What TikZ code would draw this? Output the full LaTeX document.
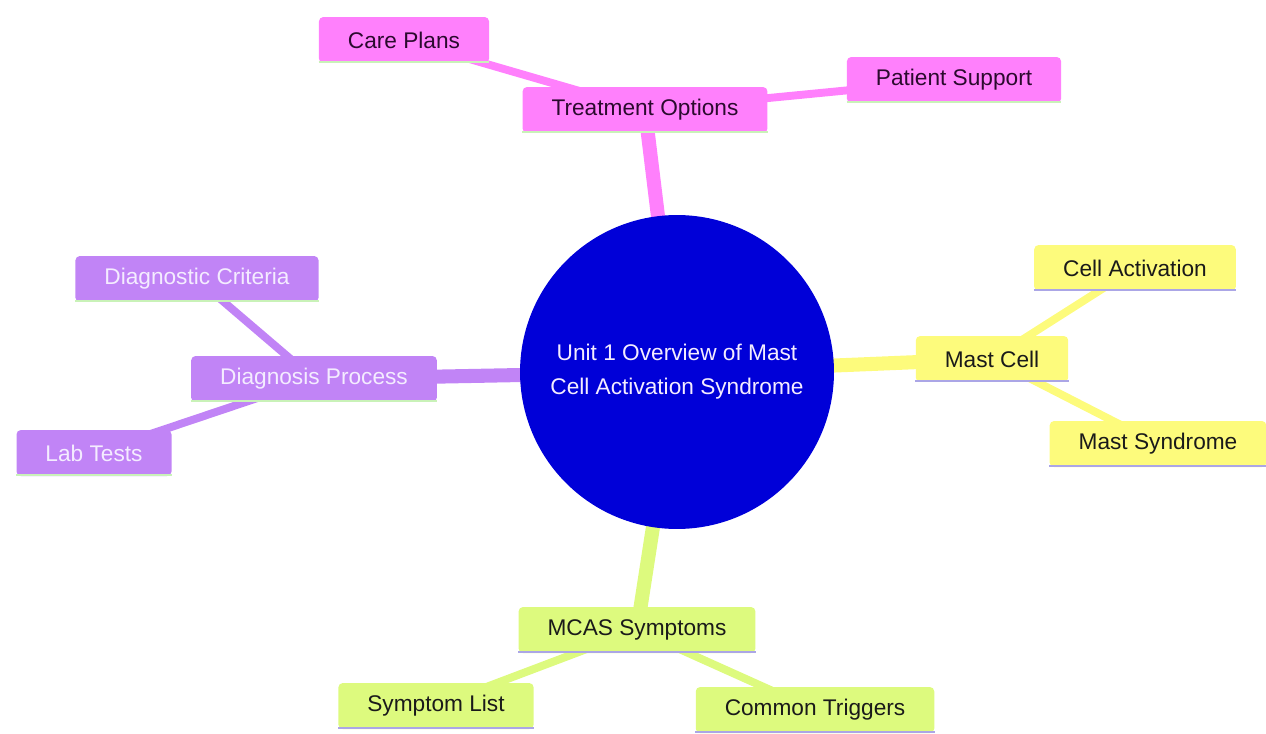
\documentclass[tikz,border=0pt]{standalone}
\usepackage{fontspec}
\setmainfont{Liberation Sans}
\usetikzlibrary{backgrounds}

\definecolor{pinkbr}{HTML}{FF80FC}
\definecolor{purplebr}{HTML}{C184F6}
\definecolor{yellowbr}{HTML}{FDFB7C}
\definecolor{greenbr}{HTML}{DDFA7E}
\definecolor{rootblue}{HTML}{0000D8}
\definecolor{lavline}{HTML}{ABA6E6}
\definecolor{mintline}{HTML}{C9F2B8}
\definecolor{darkplum}{HTML}{2B0A2E}
\definecolor{paletext}{HTML}{F4ECFF}
\definecolor{inktext}{HTML}{1A1A1A}

\tikzset{
  box/.style={rectangle, rounded corners=2.5pt, minimum height=0.92cm,
    inner xsep=0.58cm, font=\fontsize{12.9}{15}\selectfont},
  trunk/.style={line width=8pt},
  twig/.style={line width=4.5pt},
}

% name, position, text, fill, text colour, underline colour
\newcommand{\mmbox}[6]{
  \node[box, fill=#4, text=#5] (#1) at (#2) {#3};
  \draw[line width=1.6pt, #6] ([yshift=0.8pt]#1.south west) -- ([yshift=0.8pt]#1.south east);
}

\begin{document}
\begin{tikzpicture}[x=0.02cm, y=-0.02cm]
  \useasboundingbox (0,0) rectangle (1266,733);

  % root
  % ====
  \node[circle, fill=rootblue, minimum size=6.28cm, text=paletext, align=center,
    font=\fontsize{12.9}{19.3}\selectfont] (root) at (677,372)
    {Unit 1 Overview of Mast\\Cell Activation Syndrome};

  % Treatment
  % ---------
  \mmbox{treat}{645,110}{Treatment Options}{pinkbr}{darkplum}{mintline}
  \mmbox{care}{404,40}{Care Plans}{pinkbr}{darkplum}{mintline}
  \mmbox{support}{954,80}{Patient Support}{pinkbr}{darkplum}{mintline}

  % Mast cell
  % ---------
  \mmbox{mast}{992,359}{Mast Cell}{yellowbr}{inktext}{lavline}
  \mmbox{activ}{1135,268}{Cell Activation}{yellowbr}{inktext}{lavline}
  \mmbox{mastsyn}{1158,444}{Mast Syndrome}{yellowbr}{inktext}{lavline}

  % Diagnosis
  % ---------
  \mmbox{diag}{314,379}{Diagnosis Process}{purplebr}{paletext}{mintline}
  \mmbox{crit}{197,279}{Diagnostic Criteria}{purplebr}{paletext}{mintline}
  \mmbox{lab}{94,453}{Lab Tests}{purplebr}{paletext}{mintline}

  % Symptoms
  % --------
  \mmbox{mcas}{637,630}{MCAS Symptoms}{greenbr}{inktext}{lavline}
  \mmbox{symlist}{436,706}{Symptom List}{greenbr}{inktext}{lavline}
  \mmbox{trig}{815,710}{Common Triggers}{greenbr}{inktext}{lavline}

  % branches
  % ========
  \begin{scope}[on background layer]
    \draw[trunk, pinkbr] (root.center) -- (treat.center);
    \draw[twig, pinkbr] (treat.center) -- (care.center) (treat.center) -- (support.center);

    \draw[trunk, yellowbr] (root.center) -- (mast.center);
    \draw[twig, yellowbr] (mast.center) -- (activ.center) (mast.center) -- (mastsyn.center);

    \draw[trunk, purplebr] (root.center) -- (diag.center);
    \draw[twig, purplebr] (diag.center) -- (crit.center) (diag.center) -- (lab.center);

    \draw[trunk, greenbr] (root.center) -- (mcas.center);
    \draw[twig, greenbr] (mcas.center) -- (symlist.center) (mcas.center) -- (trig.center);
  \end{scope}
\end{tikzpicture}
\end{document}
